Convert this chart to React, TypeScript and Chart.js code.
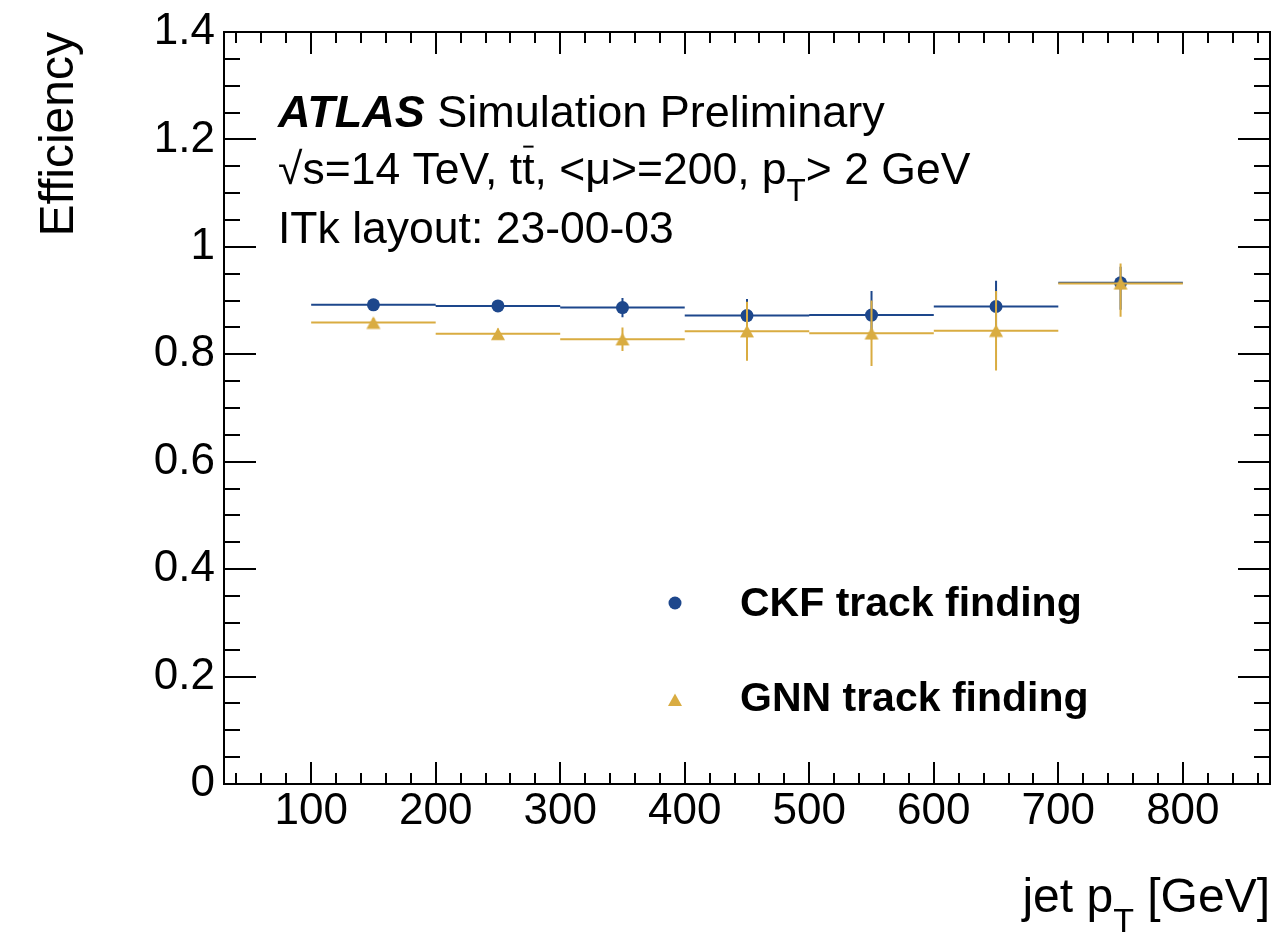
import React, { useEffect, useRef } from "react";
import { Chart, registerables } from "chart.js";

Chart.register(...registerables);

// ---------------- data ----------------
const binLow = [100, 200, 300, 400, 500, 600, 700];
const binHigh = [200, 300, 400, 500, 600, 700, 800];
const binCenter = [150, 250, 350, 450, 550, 650, 750];

const ckfEff = [0.892, 0.89, 0.887, 0.872, 0.873, 0.889, 0.933];
const ckfErrUp = [0.006, 0.008, 0.018, 0.031, 0.045, 0.048, 0.03];
const ckfErrDown = [0.006, 0.008, 0.018, 0.031, 0.045, 0.048, 0.05];
const gnnEff = [0.859, 0.838, 0.828, 0.843, 0.839, 0.844, 0.932];
const gnnErrUp = [0.008, 0.01, 0.022, 0.055, 0.061, 0.074, 0.037];
const gnnErrDown = [0.008, 0.01, 0.022, 0.055, 0.061, 0.074, 0.062];

const xTickValues = [100, 200, 300, 400, 500, 600, 700, 800];
const xTickLabels = ["100", "200", "300", "400", "500", "600", "700", "800"];
const yTickValues = [0, 0.2, 0.4, 0.6, 0.8, 1.0, 1.2, 1.4];
const yTickLabels = ["0", "0.2", "0.4", "0.6", "0.8", "1", "1.2", "1.4"];

const xMin = 30;
const xMax = 870;
const yMin = 0;
const yMax = 1.4;
const xMinorStep = 20;
const yMinorStep = 0.05;

const seriesLabels = ["CKF track finding", "GNN track finding"];
const atlasLines = {
  atlas: "ATLAS",
  sim: " Simulation Preliminary",
  layout: "ITk layout: 23-00-03",
};
const xTitle = ["jet p", "T", " [GeV]"];
const yTitle = "Efficiency";

// ---------------- style ----------------
const FONT = '"Liberation Sans", Arial, Helvetica, sans-serif';
const BLUE = "#1d478c";
const GOLD = "#d9ac41";

function hBars(vals: number[]) {
  const d: any[] = [];
  vals.forEach((v, i) => {
    d.push({ x: binLow[i], y: v }, { x: binHigh[i], y: v }, { x: binHigh[i], y: null });
  });
  return d;
}
function vBars(vals: number[], up: number[], down: number[]) {
  const d: any[] = [];
  vals.forEach((v, i) => {
    d.push(
      { x: binCenter[i], y: v - down[i] },
      { x: binCenter[i], y: v + up[i] },
      { x: binCenter[i], y: null }
    );
  });
  return d;
}
function points(vals: number[]) {
  return vals.map((v, i) => ({ x: binCenter[i], y: v }));
}

function makeTriangle(color: string) {
  const c = document.createElement("canvas");
  c.width = 16;
  c.height = 14;
  const g = c.getContext("2d")!;
  g.fillStyle = color;
  g.beginPath();
  g.moveTo(8, 0.75);
  g.lineTo(15, 13.25);
  g.lineTo(1, 13.25);
  g.closePath();
  g.fill();
  return c;
}

type Seg = { t: string; font: string; dy?: number; overbar?: boolean };

function segWidth(ctx: CanvasRenderingContext2D, segs: Seg[]) {
  let w = 0;
  for (const s of segs) {
    ctx.font = s.font;
    w += ctx.measureText(s.t).width;
  }
  return w;
}

function drawRich(ctx: CanvasRenderingContext2D, x: number, y: number, segs: Seg[], size: number) {
  let cx = x;
  for (const s of segs) {
    ctx.font = s.font;
    ctx.fillText(s.t, cx, y + (s.dy || 0));
    const w = ctx.measureText(s.t).width;
    if (s.overbar) {
      ctx.save();
      ctx.strokeStyle = "#000";
      ctx.lineWidth = 2;
      ctx.beginPath();
      ctx.moveTo(cx + 1, y - size * 0.84);
      ctx.lineTo(cx + w - 1, y - size * 0.84);
      ctx.stroke();
      ctx.restore();
    }
    cx += w;
  }
  return cx;
}

const atlasPlugin = {
  id: "atlasDecor",
  afterDraw(chart: any) {
    const { ctx, chartArea } = chart;
    const { left, right, top, bottom } = chartArea;
    const xs = chart.scales.x;
    const ys = chart.scales.y;
    ctx.save();
    ctx.strokeStyle = "#000";
    ctx.lineWidth = 2;
    ctx.strokeRect(left, top, right - left, bottom - top);

    const line = (x1: number, y1: number, x2: number, y2: number) => {
      ctx.beginPath();
      ctx.moveTo(x1, y1);
      ctx.lineTo(x2, y2);
      ctx.stroke();
    };

    // x ticks (inward, top & bottom)
    for (let v = Math.ceil(xMin / xMinorStep) * xMinorStep; v <= xMax; v += xMinorStep) {
      const isMajor = xTickValues.indexOf(v) >= 0;
      const len = isMajor ? 22 : 11;
      const px = Math.round(xs.getPixelForValue(v));
      line(px, bottom, px, bottom - len);
      line(px, top, px, top + len);
    }
    // y ticks (inward, left & right)
    const nMinor = Math.round((yMax - yMin) / yMinorStep);
    for (let k = 0; k <= nMinor; k++) {
      const v = yMin + k * yMinorStep;
      const isMajor = yTickValues.some((t) => Math.abs(t - v) < 1e-6);
      const len = isMajor ? 32 : 16;
      const py = Math.round(ys.getPixelForValue(v));
      line(left, py, left + len, py);
      line(right, py, right - len, py);
    }

    ctx.fillStyle = "#000";
    ctx.textAlign = "left";
    ctx.textBaseline = "alphabetic";

    // ATLAS label block
    const s45 = 45;
    const s44 = 44.5;
    const reg45 = `${s45}px ${FONT}`;
    const reg44 = `${s44}px ${FONT}`;
    const sub44 = `31.5px ${FONT}`;
    drawRich(
      ctx,
      278,
      127,
      [
        { t: atlasLines.atlas, font: `italic bold ${s45}px ${FONT}` },
        { t: atlasLines.sim, font: reg45 },
      ],
      s45
    );
    drawRich(
      ctx,
      278,
      184,
      [
        { t: "\u221As=14 TeV, t", font: reg44 },
        { t: "t", font: reg44, overbar: true },
        { t: ", <\u03BC>=200, p", font: reg44 },
        { t: "T", font: sub44, dy: 17 },
        { t: "> 2 GeV", font: reg44 },
      ],
      s44
    );
    drawRich(ctx, 278, 243, [{ t: atlasLines.layout, font: reg44 }], s44);

    // legend
    const legFont = `bold 41px ${FONT}`;
    ctx.font = legFont;
    ctx.fillText(seriesLabels[0], 740, 616);
    ctx.fillText(seriesLabels[1], 740, 711);
    ctx.fillStyle = BLUE;
    ctx.beginPath();
    ctx.arc(675, 603, 6.5, 0, Math.PI * 2);
    ctx.fill();
    ctx.fillStyle = GOLD;
    ctx.beginPath();
    ctx.moveTo(675, 693.5);
    ctx.lineTo(682, 706);
    ctx.lineTo(668, 706);
    ctx.closePath();
    ctx.fill();

    // axis titles
    ctx.fillStyle = "#000";
    const tSegs: Seg[] = [
      { t: xTitle[0], font: `48px ${FONT}` },
      { t: xTitle[1], font: `34px ${FONT}`, dy: 20 },
      { t: xTitle[2], font: `48px ${FONT}` },
    ];
    const tw = segWidth(ctx, tSegs);
    drawRich(ctx, right - tw, 912, tSegs, 48);

    ctx.save();
    ctx.translate(73, top);
    ctx.rotate(-Math.PI / 2);
    ctx.font = `48px ${FONT}`;
    ctx.textAlign = "right";
    ctx.fillText(yTitle, 0, 0);
    ctx.restore();

    ctx.restore();
  },
};

export default function App() {
  const ref = useRef<HTMLCanvasElement | null>(null);

  useEffect(() => {
    if (!ref.current) return;
    const tri = makeTriangle(GOLD);
    const lineDs = (data: any[], color: string, order: number) => ({
      type: "scatter" as const,
      data,
      showLine: true,
      spanGaps: false,
      borderColor: color,
      borderWidth: 2,
      borderCapStyle: "butt",
      pointRadius: 0,
      pointHoverRadius: 0,
      fill: false,
      order,
    });
    const chart = new Chart(ref.current, {
      type: "scatter",
      data: {
        datasets: [
          {
            label: seriesLabels[1] + " marker",
            data: points(gnnEff),
            pointStyle: tri as any,
            pointRadius: 7,
            pointHoverRadius: 7,
            backgroundColor: GOLD,
            borderWidth: 0,
            order: 0,
          } as any,
          lineDs(hBars(gnnEff), GOLD, 1),
          lineDs(vBars(gnnEff, gnnErrUp, gnnErrDown), GOLD, 1),
          {
            label: seriesLabels[0] + " marker",
            data: points(ckfEff),
            pointStyle: "circle",
            pointRadius: 6.5,
            pointHoverRadius: 6.5,
            backgroundColor: BLUE,
            borderWidth: 0,
            order: 2,
          } as any,
          lineDs(hBars(ckfEff), BLUE, 3),
          lineDs(vBars(ckfEff, ckfErrUp, ckfErrDown), BLUE, 3),
        ],
      },
      options: {
        responsive: false,
        animation: false,
        events: [],
        layout: { autoPadding: false, padding: { left: 0, right: 2, top: 32, bottom: 0 } },
        plugins: {
          legend: { display: false },
          tooltip: { enabled: false },
        },
        scales: {
          x: {
            type: "linear",
            min: xMin,
            max: xMax,
            grid: { display: false, drawTicks: false },
            border: { display: false },
            afterBuildTicks: (s: any) => {
              s.ticks = xTickValues.map((v) => ({ value: v }));
            },
            afterFit: (s: any) => {
              s.height = 148;
              s.paddingLeft = 0;
              s.paddingRight = 0;
            },
            ticks: {
              autoSkip: false,
              maxRotation: 0,
              padding: 1,
              color: "#000",
              font: { family: FONT, size: 44 },
              callback: (_v: any, i: number) => xTickLabels[i],
            },
          },
          y: {
            type: "linear",
            min: yMin,
            max: yMax,
            grid: { display: false, drawTicks: false },
            border: { display: false },
            afterBuildTicks: (s: any) => {
              s.ticks = yTickValues.map((v) => ({ value: v }));
            },
            afterFit: (s: any) => {
              s.width = 224;
              s.paddingTop = 0;
              s.paddingBottom = 0;
            },
            ticks: {
              autoSkip: false,
              padding: 9,
              color: "#000",
              font: { family: FONT, size: 44 },
              callback: (_v: any, i: number) => yTickLabels[i],
            },
          },
        },
      } as any,
      plugins: [atlasPlugin],
    });
    return () => chart.destroy();
  }, []);

  return (
    <div style={{ position: "absolute", left: 0, top: 0, width: 1272, height: 932, background: "#fff" }}>
      <canvas ref={ref} width={1272} height={932} style={{ display: "block" }} />
    </div>
  );
}
